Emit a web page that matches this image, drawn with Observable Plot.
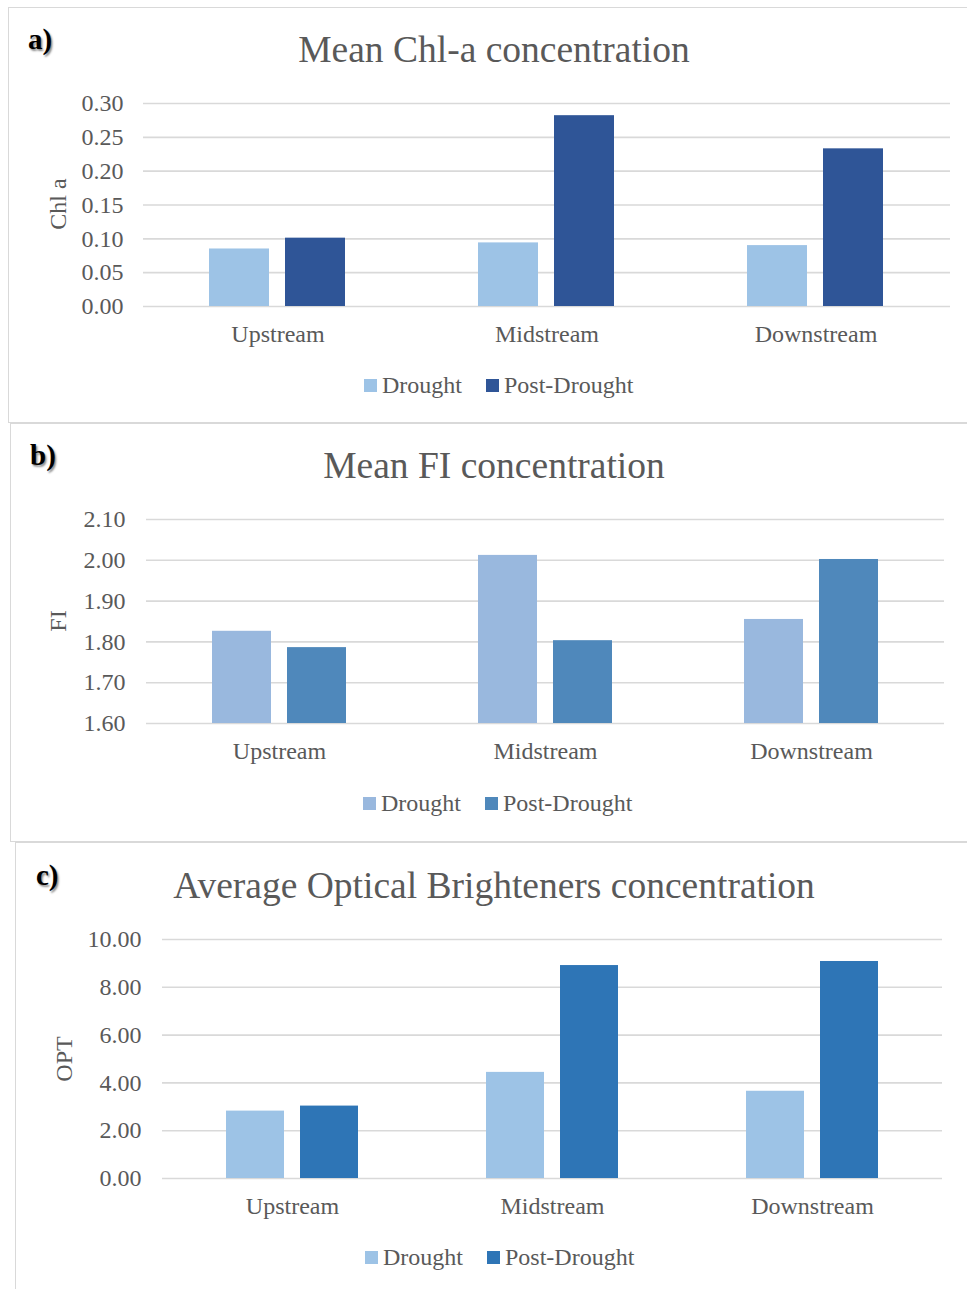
<!DOCTYPE html>
<html>
<head>
<meta charset="utf-8">
<script src="https://cdn.jsdelivr.net/npm/d3@7"></script>
<script src="https://cdn.jsdelivr.net/npm/@observablehq/plot@0.6"></script>
<style>
  html, body { margin: 0; padding: 0; background: #fff; }
  body { width: 967px; height: 1289px; position: relative; overflow: hidden;
         font-family: "Liberation Serif", "Times New Roman", serif; color: #595959; }
  .panel { position: absolute; border: 1.5px solid #d9d9d9; box-sizing: border-box; }
  .abs { position: absolute; white-space: nowrap; }
  .title { font-size: 37.5px; text-align: center; left: 0; width: 988px; height: 44px; line-height: 44px; }
  .letter { font-size: 29px; font-weight: bold; color: #000; text-shadow: 1.5px 1.5px 2px rgba(0,0,0,0.45); line-height: 30px; }
  .ylab { font-size: 24px; transform: translate(-50%, -50%) rotate(-90deg); }
  .legend { display: flex; align-items: center; font-size: 24px; line-height: 28px; height: 28px; }
  .legend .sw { width: 13px; height: 13px; margin-right: 5px; display: inline-block; }
  .legend .item { display: flex; align-items: center; margin-right: 24px; }
  .chart { position: absolute; left: 0; }
</style>
</head>
<body>
<div id="root"></div>
<script>
// ---- data ----
const sites = ["Upstream", "Midstream", "Downstream"];
const periods = ["Drought", "Post-Drought"];

const chlDrought = [0.085, 0.094, 0.090];
const chlPost    = [0.101, 0.282, 0.233];
const chlTicks   = [0, 0.05, 0.10, 0.15, 0.20, 0.25, 0.30];

const fiDrought  = [1.826, 2.012, 1.855];
const fiPost     = [1.786, 1.803, 2.002];
const fiTicks    = [1.6, 1.7, 1.8, 1.9, 2.0, 2.1];

const optDrought = [2.82, 4.44, 3.65];
const optPost    = [3.03, 8.91, 9.08];
const optTicks   = [0, 2, 4, 6, 8, 10];

const titles = ["Mean Chl-a concentration", "Mean FI concentration", "Average Optical Brighteners concentration"];
const yLabels = ["Chl a", "FI", "OPT"];
const letters = ["a)", "b)", "c)"];

// ---- layout ----
const panels = [
  { drought: chlDrought, post: chlPost, ticks: chlTicks, colors: ["#9dc3e6", "#2f5597"],
    box: {l: 8, t: 7, w: 962, h: 416}, titleY: 50, letter: {x: 28, y: 24},
    svgTop: 80, height: 280, ml: 142, mr: 17, mt: 23, mb: 54, tp: 20,
    ylab: {x: 58, y: 204}, legend: {x: 364, y: 385} },
  { drought: fiDrought, post: fiPost, ticks: fiTicks, colors: ["#99b8de", "#4f88bb"],
    box: {l: 10, t: 423, w: 960, h: 419}, titleY: 466, letter: {x: 30, y: 440},
    svgTop: 496, height: 280, ml: 145, mr: 22, mt: 23, mb: 53, tp: 21,
    ylab: {x: 58, y: 621}, legend: {x: 363, y: 803} },
  { drought: optDrought, post: optPost, ticks: optTicks, colors: ["#9dc3e6", "#2e75b6"],
    box: {l: 15, t: 842, w: 960, h: 460}, titleY: 886, letter: {x: 36, y: 860},
    svgTop: 916, height: 300, ml: 162, mr: 25, mt: 23, mb: 38, tp: 21,
    ylab: {x: 64, y: 1059}, legend: {x: 365, y: 1257} }
];

const root = document.getElementById("root");

panels.forEach((p, k) => {
  const box = document.createElement("div");
  box.className = "panel";
  Object.assign(box.style, {left: p.box.l + "px", top: p.box.t + "px", width: p.box.w + "px", height: p.box.h + "px"});
  root.appendChild(box);

  const t = document.createElement("div");
  t.className = "abs title";
  t.style.top = (p.titleY - 22) + "px";
  t.textContent = titles[k];
  root.appendChild(t);

  const L = document.createElement("div");
  L.className = "abs letter";
  L.style.left = p.letter.x + "px";
  L.style.top = p.letter.y + "px";
  L.textContent = letters[k];
  root.appendChild(L);

  const yl = document.createElement("div");
  yl.className = "abs ylab";
  yl.style.left = p.ylab.x + "px";
  yl.style.top = p.ylab.y + "px";
  yl.textContent = yLabels[k];
  root.appendChild(yl);

  const data = sites.flatMap((s, i) => [
    {site: s, period: periods[0], value: p.drought[i]},
    {site: s, period: periods[1], value: p.post[i]}
  ]);
  const domain = [p.ticks[0], p.ticks[p.ticks.length - 1]];

  const chart = Plot.plot({
    width: 967,
    height: p.height,
    marginLeft: p.ml, marginRight: p.mr, marginTop: p.mt, marginBottom: p.mb,
    style: {fontFamily: "'Liberation Serif', 'Times New Roman', serif", fontSize: "24px", color: "#595959", background: "transparent", overflow: "visible"},
    fx: {domain: sites, padding: 0, label: null, axis: "bottom", tickSize: 0, tickPadding: 18},
    x: {domain: periods, paddingInner: 0.21, paddingOuter: 0.86, axis: null},
    y: {domain, ticks: p.ticks, tickFormat: d => d.toFixed(2), tickSize: 0, tickPadding: p.tp, label: null},
    color: {domain: periods, range: p.colors},
    marks: [
      Plot.ruleY(p.ticks, {stroke: "#d9d9d9", strokeWidth: 1.6}),
      Plot.barY(data, {fx: "site", x: "period", y1: domain[0], y2: "value", fill: "period"})
    ]
  });
  chart.classList.add("chart");
  chart.style.top = p.svgTop + "px";
  root.appendChild(chart);

  const lg = document.createElement("div");
  lg.className = "abs legend";
  lg.style.left = p.legend.x + "px";
  lg.style.top = (p.legend.y - 14) + "px";
  periods.forEach((name, j) => {
    const item = document.createElement("span");
    item.className = "item";
    const sw = document.createElement("span");
    sw.className = "sw";
    sw.style.background = p.colors[j];
    const tx = document.createElement("span");
    tx.textContent = name;
    item.appendChild(sw); item.appendChild(tx);
    lg.appendChild(item);
  });
  root.appendChild(lg);
});
</script>
</body>
</html>
